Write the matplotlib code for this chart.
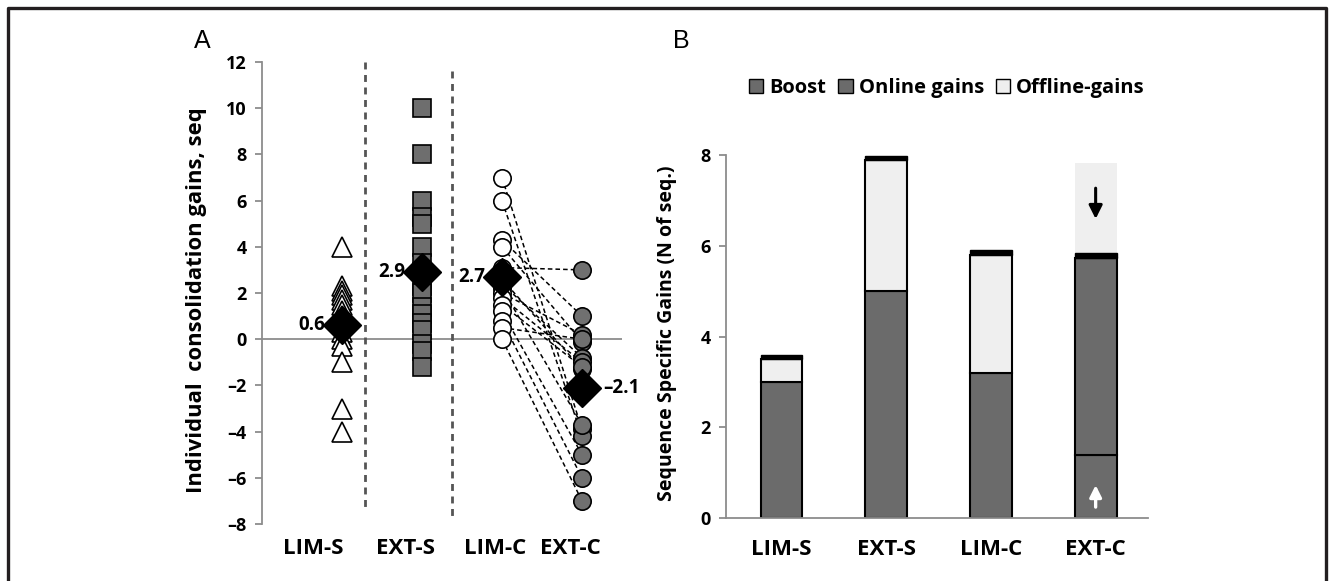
import numpy as np
import matplotlib
matplotlib.use("Agg")
import matplotlib.pyplot as plt
from matplotlib.patches import Patch
from matplotlib.lines import Line2D

plt.rcParams['font.family'] = ['Open Sans', 'DejaVu Sans']
plt.rcParams['font.weight'] = 'bold'

# ---- panel A data ----
lim_s = [4, 2.3, 2.1, 1.9, 1.7, 1.5, 1.2, 1.0, 0.8, 0.3, 0, -0.3, -1, -3, -4]
ext_s = [10, 8, 6, 5.3, 5, 4, 3.3, 2.9, 2.3, 2.0, 1.4, 1.1, 0.7, 0.4, -0.2, -0.5, -1.2]
lim_c = [7, 6, 4.3, 4.0, 3.1, 2.6, 2.4, 2.2, 2.0, 1.8, 1.5, 1.2, 0.8, 0.5, 0]
ext_c = [-3.9, -4.2, 1.0, -0.1, 3.0, -1.3, -0.8, -3.7, 0.2, -1.0, -1.2, -5.0, -6.0, 0.0, -7.0]
means_a = [0.6, 2.9, 2.7, -2.1]
mean_labels = ['0.6', '2.9', '2.7', '\u20132.1']
groups = ['LIM-S', 'EXT-S', 'LIM-C', 'EXT-C']
yticks_a = [12, 10, 8, 6, 4, 2, 0, -2, -4, -6, -8]

# ---- panel B data ----
boost = [0, 0, 0, 1.38]
online = [3.0, 5.0, 3.2, 4.35]
offline = [0.5, 2.88, 2.6, -2.0]
cap = 0.1
yticks_b = [0, 2, 4, 6, 8]

dark = '#6b6b6b'
light = '#efefef'

fig = plt.figure(figsize=(13.3, 5.81), dpi=100)

# ================= Panel A =================
ax = fig.add_axes([262/1330, 1-524/581, 360/1330, 462/581])
ax.set_xlim(0, 4.5)
ax.set_ylim(-8, 12)

ax.axhline(0, color='#8c8c8c', lw=1.3, zorder=1)
ax.plot([1.29, 1.29], [12, -7.3], ls=(0, (2.5, 2)), color='#555555', lw=2, zorder=1)
ax.plot([2.37, 2.37], [11.6, -7.7], ls=(0, (2.5, 2)), color='#555555', lw=2, zorder=1)

# paired lines LIM-C -> EXT-C
for a, b in zip(lim_c, ext_c):
    ax.plot([3, 4], [a, b], ls=(0, (3, 2)), color='black', lw=1.1, zorder=2)

ax.plot([1]*len(lim_s), lim_s, '^', ms=15, mfc='white', mec='black', mew=1.2, ls='none', zorder=3)
ax.plot([2]*len(ext_s), ext_s, 's', ms=12.5, mfc='#6e6e6e', mec='black', mew=1.2, ls='none', zorder=3)
ax.plot([3]*len(lim_c), lim_c, 'o', ms=12.5, mfc='white', mec='black', mew=1.2, ls='none', zorder=3)
ax.plot([4]*len(ext_c), ext_c, 'o', ms=12.5, mfc='#707070', mec='black', mew=1.2, ls='none', zorder=3)

xs = [1, 2, 3, 4]
ax.plot(xs, means_a, 'D', ms=19, color='black', ls='none', zorder=5)
for i, (x, m, lab) in enumerate(zip(xs, means_a, mean_labels)):
    if i < 3:
        ax.annotate(lab, (x, m), xytext=(-12, 0), textcoords='offset points',
                    ha='right', va='center', fontsize=13.5, fontweight='bold', zorder=6)
    else:
        ax.annotate(lab, (x, m), xytext=(15, 0), textcoords='offset points',
                    ha='left', va='center', fontsize=13.5, fontweight='bold', zorder=6)

ax.set_yticks(yticks_a)
ax.set_yticklabels([str(t).replace('-', '\u2013') for t in yticks_a], fontsize=13, fontweight='bold')
ax.set_xticks([0.64, 1.79, 2.91, 3.86])
ax.set_xticklabels(groups, fontsize=16, fontweight='bold')
ax.tick_params(axis='x', length=0, pad=10)
ax.tick_params(axis='y', length=5, color='#8c8c8c', width=1.3, pad=6)
for s in ['top', 'right', 'bottom']:
    ax.spines[s].set_visible(False)
ax.spines['left'].set_color('#8c8c8c')
ax.spines['left'].set_linewidth(1.3)
ax.set_ylabel('Individual  consolidation gains, seq', fontsize=15.8, fontweight='bold')
ax.yaxis.set_label_coords(-0.153, 0.485)

# ================= Panel B =================
bx = fig.add_axes([726/1330, 1-518/581, 422/1330, 363/581])
bx.set_xlim(-0.53, 3.5)
bx.set_ylim(0, 8)
pos = np.arange(len(groups))
w = 0.4
boost = np.array(boost)
online = np.array(online)
offline = np.array(offline)
pos_off = np.clip(offline, 0, None)

bx.bar(pos, boost, w, color=dark, edgecolor='black', lw=1.5, zorder=2)
bx.bar(pos, online, w, bottom=boost, color=dark, edgecolor='black', lw=1.5, zorder=2)
bx.bar(pos, pos_off, w, bottom=boost + online, color=light, edgecolor='black', lw=1.5, zorder=2)
top = boost + online + pos_off
bx.bar(pos, [cap]*len(pos), w, bottom=top, color='black', edgecolor='black', lw=1, zorder=3)
# negative offline gains shown as a pale box above the bar
neg = np.clip(-offline, 0, None)
bx.bar(pos, neg, w, bottom=top + cap, color=light, edgecolor='none', zorder=1)
for p, n, t, b in zip(pos, neg, top, boost):
    if n > 0:
        bx.annotate('', xy=(p, t + cap + n * 0.35), xytext=(p, t + cap + n * 0.75),
                    arrowprops=dict(arrowstyle='-|>,head_width=0.4,head_length=0.8',
                                    color='black', lw=2.2), zorder=4)
    if b > 0:
        bx.annotate('', xy=(p, b * 0.57), xytext=(p, b * 0.13),
                    arrowprops=dict(arrowstyle='-|>,head_width=0.35,head_length=0.7',
                                    color='white', lw=2.4), zorder=4)

bx.set_yticks(yticks_b)
bx.set_yticklabels([str(t) for t in yticks_b], fontsize=13, fontweight='bold')
bx.set_xticks(pos)
bx.set_xticklabels(groups, fontsize=16, fontweight='bold')
bx.tick_params(axis='x', length=0, pad=15)
bx.tick_params(axis='y', length=5, color='#8c8c8c', width=1.3, pad=6)
for s in ['top', 'right']:
    bx.spines[s].set_visible(False)
for s in ['left', 'bottom']:
    bx.spines[s].set_color('#8c8c8c')
    bx.spines[s].set_linewidth(1.3)
bx.set_ylabel('Sequence Specific Gains (N of seq.)', fontsize=14, fontweight='bold')
bx.yaxis.set_label_coords(-0.116, 0.51)

handles = [Patch(facecolor=dark, edgecolor='black'),
           Patch(facecolor=dark, edgecolor='black'),
           Patch(facecolor=light, edgecolor='black')]
fig.legend(handles, ['Boost', 'Online gains', 'Offline-gains'], loc='center',
           bbox_to_anchor=(947/1330, 1-88/581), ncol=3, frameon=False,
           handlelength=0.7, handleheight=0.7, handletextpad=0.3, columnspacing=0.6,
           prop={'size': 14.5, 'weight': 'bold'})

# panel letters
fig.text(202/1330, 1-41/581, 'A', fontsize=18, fontweight='normal', va='center', ha='center',
         family=['Liberation Sans', 'DejaVu Sans'])
fig.text(681/1330, 1-41/581, 'B', fontsize=18, fontweight='normal', va='center', ha='center',
         family=['Liberation Sans', 'DejaVu Sans'])

# outer frame (left, top, right)
fc = '#231f20'
fig.add_artist(Line2D([8/1330, 8/1330, 1326/1330, 1326/1330], [0, 1-8/581, 1-8/581, 0],
                      transform=fig.transFigure, color=fc, lw=2.4))

fig.savefig('out.png', dpi=100)
